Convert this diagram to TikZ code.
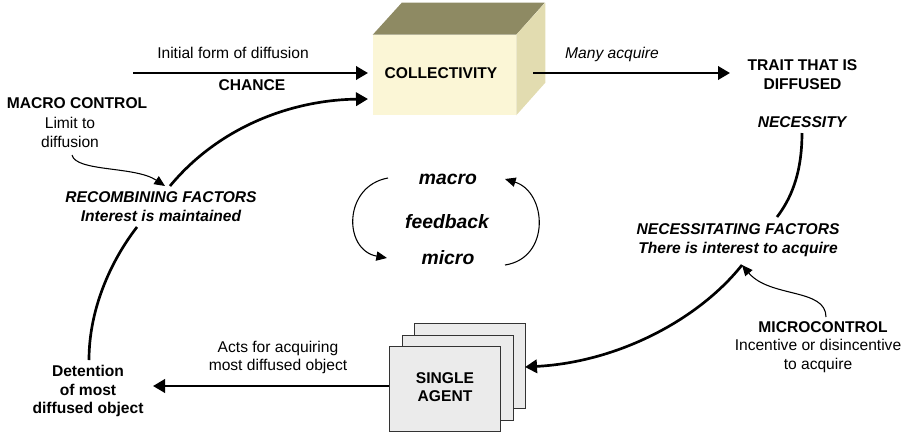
\documentclass[tikz,border=0pt]{standalone}
\usepackage{fontspec}
\setmainfont{Liberation Sans}
\usetikzlibrary{arrows.meta}
\definecolor{cubefront}{HTML}{FBF6D6}
\definecolor{cubetop}{HTML}{8E8A63}
\definecolor{cubeside}{HTML}{E2DCB0}
\definecolor{agentfill}{HTML}{EBEBEB}
\definecolor{agentline}{HTML}{333333}
\tikzset{
  txt/.style={inner sep=0pt, align=center, font=\fontsize{11.7}{14}\selectfont},
  bf/.style={txt, font=\fontsize{11.7}{14}\selectfont\bfseries},
  bi/.style={txt, font=\fontsize{11.7}{14}\selectfont\bfseries\itshape},
  bibig/.style={txt, font=\fontsize{14.5}{17}\selectfont\bfseries\itshape},
  it/.style={txt, font=\fontsize{11.7}{14}\selectfont\itshape},
  thickarrow/.style={line width=2pt, -{Triangle[length=9pt,width=10pt]}},
  thickline/.style={line width=2pt},
  thinarrow/.style={line width=0.8pt, -{Triangle[length=8pt,width=7pt]}},
  agentbox/.style={draw=agentline, fill=agentfill, line width=0.7pt, minimum width=83.25pt, minimum height=63.75pt, inner sep=0pt},
}
\begin{document}
\begin{tikzpicture}[x=0.75pt, y=-0.75pt]
\useasboundingbox (0,0) rectangle (911,433);

% cube
\node[fill=cubefront, minimum width=107.25pt, minimum height=60pt, inner sep=0pt] (front) at (444.5,75) {};
\fill[cubetop] (front.north west) -- ++(29,-32) -- ++(143,0) -- (front.north east) -- cycle;
\fill[cubeside] (front.north east) -- ++(29,-32) -- ++(0,80) -- (front.south east) -- cycle;
\node[bf] (coll) at (441,73) {COLLECTIVITY};

% top-left chance arrow
\coordinate (chst) at (133,73);
\coordinate (chend) at (368,73);
\draw[thickarrow] (chst) -- (chend);
\node[txt] (initlbl) at (233,53) {Initial form of diffusion};
\node[bf] (chance) at (252,85) {CHANCE};

% many acquire
\coordinate (mast) at (533,73);
\coordinate (maend) at (730,73);
\draw[thickarrow] (mast) -- (maend);
\node[it] (many) at (612,54) {Many acquire};

% right texts
\node[bf] (trait) at (802.5,74.5) {TRAIT THAT IS\\DIFFUSED};
\node[bi] (necess) at (802,122) {NECESSITY};
\node[bi] (nfact) at (738,240) {NECESSITATING FACTORS\\There is interest to acquire};
\node[bf] (micctl) at (823,327) {MICROCONTROL};
\node[txt] (incent) at (818,356) {Incentive or disincentive\\to acquire};

\coordinate (necbot) at (802,133);
\coordinate (nfacttop) at (777,217);
\draw[thickline] (necbot) .. controls (802,175) and (790,200) .. (nfacttop);

\coordinate (nfactbot) at (742,265);
\coordinate (micstart) at (826,317);
\draw[thinarrow] (micstart) .. controls (826,288) and (770,298) .. (nfactbot);

% agent stack
\node[agentbox] (agent3) at (469.5,365.5) {};
\node[agentbox] (agent2) at (457.5,377.5) {};
\node[agentbox] (agent1) at (445,389) {};
\node[bf] (agentlbl) at (445,387) {SINGLE\\AGENT};
\coordinate (agentin) at (525,367);
\draw[thickarrow] (nfactbot) .. controls (700,318) and (620,362) .. (agentin);

% acts arrow
\coordinate (actsst) at (389,386);
\coordinate (actsend) at (153,386);
\draw[thickarrow] (actsst) -- (actsend);
\node[txt] (acts) at (278,357.5) {Acts for acquiring\\most diffused object};
\node[bf] (det) at (88,391) {Detention\\of most\\diffused object};

% left side
\node[bf] (macctl) at (77,103) {MACRO CONTROL};
\node[txt] (limit) at (70,132.5) {Limit to\\diffusion};
\node[bi] (recomb) at (161,206.5) {RECOMBINING FACTORS\\Interest is maintained};
\coordinate (limbot) at (72,155);
\coordinate (rectop) at (165,186);
\draw[thinarrow] (limbot) .. controls (76,172) and (135,166) .. (rectop);

\coordinate (recst) at (170,186);
\coordinate (cubein) at (368,99);
\draw[thickarrow] (recst) .. controls (218,128) and (290,100) .. (cubein);

\coordinate (recbot) at (137,227);
\coordinate (dettop) at (89,360);
\draw[thickline] (recbot) .. controls (110,262) and (89,310) .. (dettop);

% feedback
\node[bibig] (macro) at (448,179) {macro};
\node[bibig] (feed) at (447,222) {feedback};
\node[bibig] (micro) at (448,258) {micro};
\coordinate (la) at (388,178);
\coordinate (lb) at (387,258);
\coordinate (ra) at (505,265);
\coordinate (rb) at (505,179);
\draw[thinarrow] (la) .. controls (343,186) and (343,250) .. (lb);
\draw[thinarrow] (ra) .. controls (551,258) and (547,192) .. (rb);
\end{tikzpicture}
\end{document}
